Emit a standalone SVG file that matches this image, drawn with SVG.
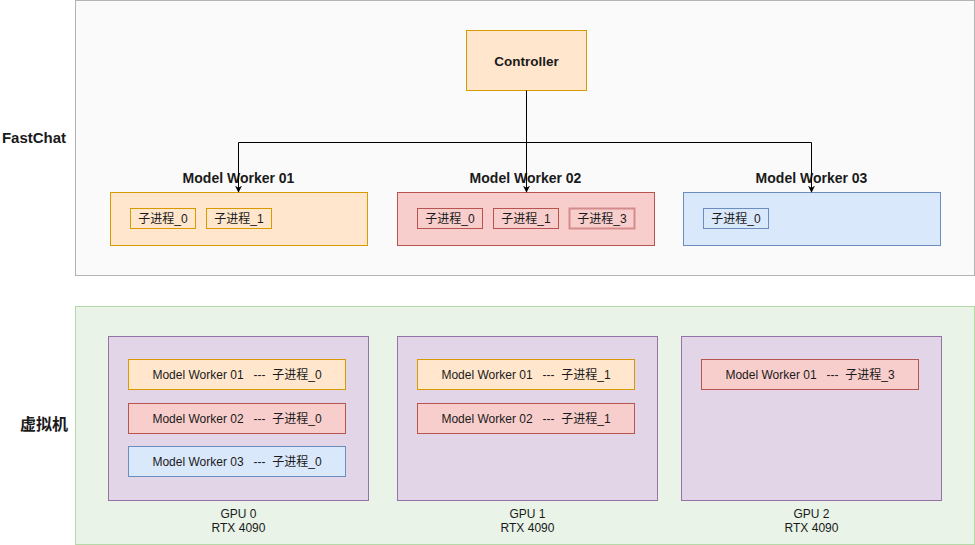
<svg xmlns="http://www.w3.org/2000/svg" width="975" height="545" viewBox="0 0 975 545">
<defs>
<style>
text{font-family:"Liberation Sans","Noto Sans CJK SC",Arial,sans-serif;fill:#1a1a1a;white-space:pre}
.b{font-weight:bold}
.c{text-anchor:middle}
.orange{fill:#ffe6cc;stroke:#d79b00}
.red{fill:#f8cecc;stroke:#b85450}
.blue{fill:#dae8fc;stroke:#6c8ebf}
.purple{fill:#e1d5e7;stroke:#9673a6}
.sub{font-size:12px}
.edge{fill:none;stroke:#000;stroke-width:1}
</style>
<marker id="arr" viewBox="0 0 10 10" refX="9" refY="5" markerWidth="7" markerHeight="7" orient="auto" markerUnits="userSpaceOnUse">
<path d="M0,0 L10,5 L0,10 L3,5 Z" fill="#000"/>
</marker>
</defs>

<g id="fastchat">
<rect x="75.5" y="0.5" width="899" height="275" fill="#fafafa" stroke="#b3b3b3"/>
<text x="34" y="143" class="b c" font-size="15">FastChat</text>
</g>

<g id="vm">
<rect x="75.5" y="306.5" width="899" height="238" fill="#e9f3e7" stroke="#b6d7a8"/>
<text x="44" y="430" class="b c" font-size="16">虚拟机</text>
</g>

<g id="controller">
<rect x="466.5" y="30.5" width="120" height="60" class="orange"/>
<text x="526.5" y="65.5" class="b c" font-size="13.5">Controller</text>
</g>

<g id="mw01">
<text x="238.5" y="183" class="b c" font-size="14">Model Worker 01</text>
<rect x="110.5" y="192.5" width="257" height="53" class="orange"/>
<rect x="130.5" y="208.5" width="65" height="20" class="orange"/>
<text x="163" y="222.5" class="c sub">子进程_0</text>
<rect x="206.5" y="208.5" width="65" height="20" class="orange"/>
<text x="239" y="222.5" class="c sub">子进程_1</text>
</g>

<g id="mw02">
<text x="525.5" y="183" class="b c" font-size="14">Model Worker 02</text>
<rect x="397.5" y="192.5" width="257" height="53" class="red"/>
<rect x="417.5" y="208.5" width="65" height="20" class="red"/>
<text x="450" y="222.5" class="c sub">子进程_0</text>
<rect x="493.5" y="208.5" width="65" height="20" class="red"/>
<text x="526" y="222.5" class="c sub">子进程_1</text>
<rect x="569.5" y="208.5" width="65" height="20" fill="#f8cecc" stroke="#d48b8b" stroke-width="2"/>
<text x="602" y="222.5" class="c sub">子进程_3</text>
</g>

<g id="mw03">
<text x="811.5" y="183" class="b c" font-size="14">Model Worker 03</text>
<rect x="683.5" y="192.5" width="257" height="53" class="blue"/>
<rect x="703.5" y="208.5" width="65" height="20" class="blue"/>
<text x="736" y="222.5" class="c sub">子进程_0</text>
</g>

<g id="connectors">
<path d="M526.5,90.5 V192" class="edge" marker-end="url(#arr)"/>
<path d="M526.5,142.5 H238.5 V192" class="edge" marker-end="url(#arr)"/>
<path d="M526.5,142.5 H811.5 V192" class="edge" marker-end="url(#arr)"/>
</g>

<g id="gpu0">
<rect x="108.5" y="336.5" width="260" height="164" class="purple"/>
<rect x="128.5" y="359.5" width="217" height="30" class="orange"/>
<text x="237" y="379" class="c sub" xml:space="preserve">Model Worker 01   ---  子进程_0</text>
<rect x="128.5" y="403.5" width="217" height="30" class="red"/>
<text x="237" y="423" class="c sub" xml:space="preserve">Model Worker 02   ---  子进程_0</text>
<rect x="128.5" y="446.5" width="217" height="30" class="blue"/>
<text x="237" y="466" class="c sub" xml:space="preserve">Model Worker 03   ---  子进程_0</text>
<text x="238.5" y="518" class="c" font-size="12">GPU 0</text>
<text x="238.5" y="532" class="c" font-size="12">RTX 4090</text>
</g>

<g id="gpu1">
<rect x="397.5" y="336.5" width="260" height="164" class="purple"/>
<rect x="417.5" y="359.5" width="217" height="30" class="orange"/>
<text x="526" y="379" class="c sub" xml:space="preserve">Model Worker 01   ---  子进程_1</text>
<rect x="417.5" y="403.5" width="217" height="30" class="red"/>
<text x="526" y="423" class="c sub" xml:space="preserve">Model Worker 02   ---  子进程_1</text>
<text x="527.5" y="518" class="c" font-size="12">GPU 1</text>
<text x="527.5" y="532" class="c" font-size="12">RTX 4090</text>
</g>

<g id="gpu2">
<rect x="681.5" y="336.5" width="260" height="164" class="purple"/>
<rect x="701.5" y="359.5" width="217" height="30" class="red"/>
<text x="810" y="379" class="c sub" xml:space="preserve">Model Worker 01   ---  子进程_3</text>
<text x="811.5" y="518" class="c" font-size="12">GPU 2</text>
<text x="811.5" y="532" class="c" font-size="12">RTX 4090</text>
</g>
</svg>
